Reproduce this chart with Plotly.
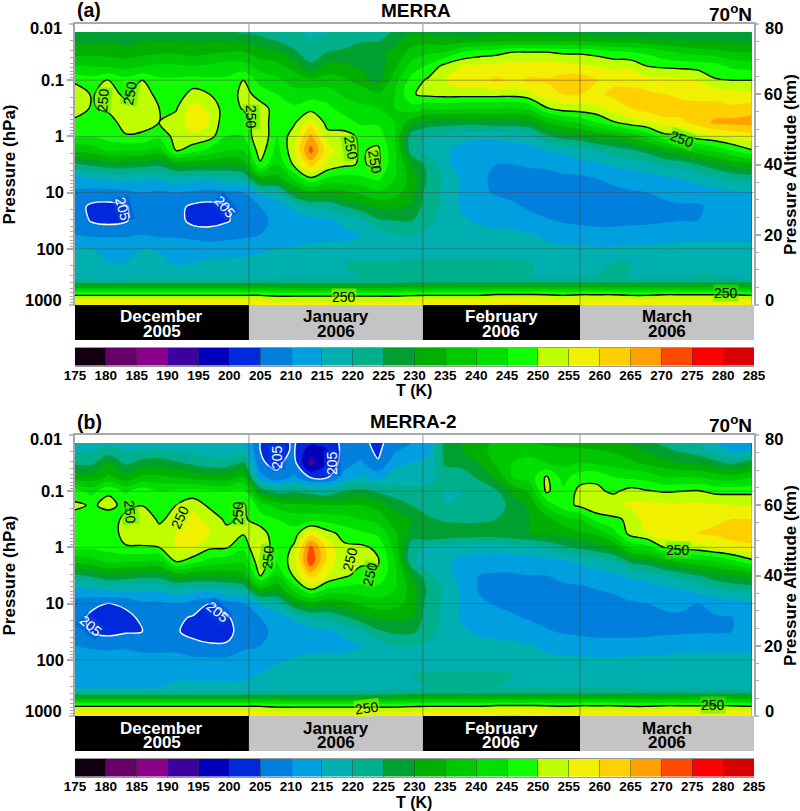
import plotly.graph_objects as go
import pandas as pd

PRESSURE_HPA = [0.0139,0.0185,0.0316,0.0562,0.1,0.178,0.316,0.562,1,1.78,3.16,5.62,10,17.8,31.6,56.2,100,178,316,398,501,631,794,1000]
COL_DATES = [str(d) for d in pd.date_range('2005-12-01','2006-03-30',freq='3D')] + ['2006-03-31 14:00:00']

# temperature profiles (K), one list per date, top of atmosphere to surface
MERRA_T = [
[226,228,233,240,249,253,252,249,246,236,224,213,209,207,208,210,215,216,218,224,236,248,255,258],
[226,228,233,240,247,249.6,249.6,247,245,237,226,215,208,204,204.5,209,215,216,218,224,236,248,255,258],
[227,229,233,239,250.5,252,251,248,247,241,228,216,208,203.5,203.5,209,214.5,215,217,224,236,248,255,259],
[226,228,232,238,247,249,252,252,249.5,240,228,217,208.5,204.5,204.5,209,214.5,215,218,224,236,248,255,258],
[227,229,233,240,250,253,253,252,249,240,227,216,210,208,208,210,215,216,218,224,236,248,255,258],
[227,229,234,241,246,248,250,250,246,238,226,216,209,207,207.5,209,214.5,216,218,224,236,248,255,259],
[227,229,234,241,246,247,249.5,252,252,250.5,231,218,210,206.5,207,209,214,214.5,218,224,236,248,255,258],
[226,229,233,240,247,252,257,258,254,247,231,217,209,204,203.5,208,213.5,215,218,224,236,248,255,258],
[226,229,234,241,246,250,254,255,252,243,231,217,208,203.5,203.5,207,213,216,218,224,236,248,255,258],
[226,229,235,242,246,246,247,246,245,240,230,219,209,204.8,204.5,208,213,216,218,224,236,248,255,258],
[224,229,235,242,250,252,250.5,247,245,240,232,220,210,207,207,209,213,216.5,218,224,236,248,255,258],
[224,226,232,238,243,248,252,254,255,253,249,233,216,210,209,210,214,217,218,224,236,248,255,258],
[222,224,231,237,241,245,248,246,245,243,240,233,218,212,211,211.5,215,217,219,224,236,247,254,257],
[221,222,226,233,238,242,246,249,253,254,251,241,229,216,212,213,215.5,218,220,224,235,247,254,257],
[219,220,222,226,236,243,248,257,266,272,262,249,234,220,213,213.5,216,219,220,224,235,247,254,257],
[220,221,225,232,237,243,246,248,252,257,254,244,232,221,214,214,216,220,220,224,235,247,254,257],
[221,222,226,231,236,239,243,247,252,252,251,243,234,225,216,214,216,220,220,224,235,247,254,257],
[221,224,228,229,233,238,241,244,249,249.5,249.5,244,236,228,218,215,216,220.5,220,224,235,247,254,257],
[220,224,229,227,228,236,240,244,248,251,251,246,239,231,224,217,216,220.5,220,224,235,247,254,257],
[226,228,231,234,238,240,240,240,240,241,241,240,237,231,225,220,216,220.5,220,224,236,247,254,257],
[229,232,237,242,247,249.5,243,232,222,222,230,233,232,229,225,220,217,221,220,225,236,248,254,258],
[228,232,239,246,251,251.5,240,228,220,218,223,224,222,222,221,219,217.5,221,220,225,236,248,255,258],
[228,231,240,252,255,252,241,227,219,216,216,219,219,219,218,217,217,221,220,225,236,248,255,258],
[228,231,245,255,259,252,240,227,217,213,213,214,214,214,216,217,217,221,220,225,237,248,255,259],
[228,231,247,256,258.5,252,240,227,216,212,211.5,211,211,212,214,217,217,221,220,225,237,248,255,259],
[229,232,248,257,261,252,240,228,216,212,210,209,209.5,212,214,216,216.5,221,220,225,237,249,256,260],
[229,232,250,258,259,252,239,228,217,212,210,208,208.5,211,213,216,216,221,220,225,237,249,256,261],
[229,232,250,257,261,254,241,229,218,213,210.5,208.5,208,209,212,215.5,216.5,220.5,220,225,237,249,256,259],
[229,232,250,257,260.5,258,249.5,235,224,215,211,208,207.5,208,210.5,214,216,218,220,225,237,249,255,259],
[228,232,249,257,262,260,252.5,238,227,216,212,209,208,208,209.5,213,216,218,220,225,237,248,255,258],
[228,232,249,256,263,260,253,241,228,218,213,209,208,208,209,212,216,218,220,225,237,249,255,258],
[228,231,248,255,260,259,254,245,231,220,214,210,208.5,208,208.5,212,215.5,217.5,220.5,225,237,249,255,258],
[228,231,246,254,259,261,257,249.5,233,222,216,211,209,208,208.5,212,215.5,220.5,220.5,225,237,249,255,258],
[228,231,245,254,259,261,260,253,236,224,217,212,209.5,208.5,209,212,216,220,220,225,237,248,255,258],
[227,230,244,250,257,261,262,255,241,227,218,213,210,208.5,209,212.5,216,217,219,225,237,248,255,258],
[226,229,241,249,257,260,263,258,248,231,221,214,211,209,209.5,213,216,217,219,225,237,249,255,258],
[226,229,239,248.5,256.5,259,262,259,248.5,234,222,215,211.5,209.5,210,214,216,217,219,225,237,249,255,258],
[226,228,238,248,255,259,261,262,252.5,238,225,217,212,209.5,210,214,216,217,220.5,225,237,249,255,258],
[226,228,237,247,250.5,258,262,266,254,241,228,219,213,211,210.5,214,216,217,220.5,225,237,249,255,258],
[226,228,235,244,250,257,261,266.5,256,245,231,221,214,211.5,211,214,216,217,219,225,237,249,255,258],
[226,228,235,243,250,256,263,267,258,249.5,233,222,215,212,211,214,216,217,219,225,236,248,255,258],
]

MERRA2_T = [
[218,219,224,232,247,251,248,248,246,236,224,213,208,207,208,210,214,215,215,222,236,248,255,258],
[218,219,224,232,243,249.5,248,247,246,238,226,215,206,204,204.5,209,213,215,215,222,236,248,255,258],
[219,222,230,236,249.5,251,248,247,247,241,229,216,204.8,203,203.5,208.5,213,214,215,222,236,248,255,258],
[218,219,224,232,244,249,251,252,249.5,240,228,216,206,203.5,204.5,209,213,214,215,222,236,248,255,258],
[218,220,227,236,248.5,249.8,254,253,249.5,240,227,216,209,206,205,208,212,214,215,222,236,248,255,258],
[218,220,228,236,245,247,249,252,250,239,227,216,209,206,206,208,212,214,215,222,236,248,255,258],
[217,219,226,235,246,250,252,255,255,250.5,232,218,210,206,205.5,208,212,214,216,222,236,248,255,258],
[216,218,224,233,247,253,257,259,256,247,231,217,208,204.5,203.5,206.5,211,214,216,222,236,248,255,258],
[215,217,222,232,246,249,253,255,251,243,231,217,205,203,203,205.5,211,214,216,222,236,248,255,258],
[215,217,222,232,245,247,249,251.5,250.5,242,231,219,208,204.5,203.5,205.5,211,214,216,222,236,248,255,258],
[216,218,226,236,246,251,251,250.5,246,241,233,221,210,207,207,209,212,214,216,222,236,248,255,258],
[205,205,205.5,212,229,243,247,253,257,254,250.5,234,216,210,209,210,212,215,217,222,236,248,255,258],
[203.5,203.5,204,206,223,238,245,246,245,245,240,231,219,212,211,211,214,217,218,222,236,247,254,257],
[205.5,205.5,207,211,224,236,243,247,251,253,251,241,229,216,212,213,215.5,218,218,222,235,247,254,257],
[201,197,193,204.5,222,236,243,258,272,274,262,250,233,220,213,213.5,216,219,218,222,235,247,254,257],
[203,200,200,204.5,221,235,243,252,258,258,255,244,231,221,214,214,216,219,218,222,235,247,254,257],
[206,207,208,212,225,235,242,248,251,251,251,243,233,224,216,214,216,219,218,222,235,247,254,257],
[206,207,211,216,227,235,240,246,251,251,248,243,236,228,219,215,216,219,219,222,235,247,254,257],
[204,204,205.5,213,224,233,238,244,249,250.5,249,243,238,231,224,217,216,219,219,222,235,247,254,257],
[207,209,213,218,222,228,232,236,238,241,241,240,237,231,226,220,216,219,219,223,236,247,254,257],
[210,212,215,218,221,225,230,228,222,221,230,233,233,230,226,220,217,220,219,224,236,248,254,258],
[213,214,216,219,221,222,226,230,219,217,221,224,222,222,222,219,217.5,220.5,220,225,236,248,255,258],
[227,227,226,221,220,220,224,229,218,216,217,219,219,219,218,217,217,220.5,220,225,236,248,255,258],
[230,230,227,222,220,221,224,228,218,213,213,214,214,214,216,217,217,220.5,220,225,237,248,255,259],
[233,233,230,226,221,221,224,228,217,212.5,210,209.5,211,212,214,217,217,220.5,220,225,237,248,255,259],
[236,237,236,231,224,222,225,228,217,212,209.5,209,209.5,212,214,216,217,220.5,220,225,237,249,256,260],
[236,238,240,240,231,227,227,229,218,212,209.5,208.5,209,210.5,213,216,216.5,220,220,225,237,249,256,261],
[235,239,241,242,236,231,230,230,219,212,210,208.5,208.5,209.5,212,215.5,216.5,219,220,225,237,249,256,259],
[234,237,240,250.8,251,241,233,231,221,213,210,208.5,208,208.5,210.5,214,216,218,220,225,237,249,255,259],
[233,236,239,243,246,248,238,231,224,214,211,209,208,208,209.5,213,216,218,220,225,237,248,255,258],
[233,236,240,248,251.5,251,240,234,226,216,212,209,208,208,209,212.5,216,218,220,225,237,249,255,258],
[232,235,239,249,251,254,247,236,228,218,213,210,208.5,208,208.5,212,215.5,217.5,220,225,237,249,255,258],
[231,234,238,245,249,254,249,243,231,220,214,210.5,209,208,208.5,212,215.5,218,220,225,237,249,255,258],
[229,232,236,244,252,256,251,252,241,226,216,212,209.5,208.5,208.5,212,216,217,220,225,237,248,255,258],
[226,229,234,243,250.5,257,258,255,243,228,217,212,210,208.5,208.5,212.5,216,217,219,225,237,248,255,258],
[224,226,232,240,249.5,256,258,258,250,232,220,213.5,211,209,209,213,216,217,219,225,237,249,255,258],
[222,224,230,240,250,256,259,259,252,236,222,215,211.5,209,209,214,216,217,219,225,237,249,255,258],
[220,222,229,240,250.5,256,259,260,253,238,225,217,210,208.5,209.5,214,216,217,219,225,237,249,255,258],
[216,218,227,238,248.5,256,259,261,255,240,228,219,212,209.5,209.5,214,216,217,219,225,237,249,255,258],
[211,214,224,237,248.5,255,260,263,257,243,230,221,213,209.8,210,214,216,217,219,225,237,249,255,258],
[211,215,228,240,248.5,255,260,265,258,248.5,232,222,214,212,211,214,216,217,219,225,236,248,255,258],
]

BAND_EDGES = list(range(175, 290, 5))
BAND_MIDS = [e + 2.5 for e in BAND_EDGES[:-1]]
BAND_COLORS = ['#120012','#660066','#8a008a','#3c00a0','#0000bb','#0028dc','#0080dc','#00a0e0','#00b0b0','#00af8c','#00a030',
               '#00af00','#00c800','#00e000','#10ff00','#c0ff00','#f0f000','#ffd000','#ffa000','#ff4800','#ff0000','#d80000']
P_TICKS = [0.01, 0.1, 1, 10, 100, 1000]
P_LABELS = ['0.01', '0.1', '1', '10', '100', '1000']
P_MINOR = [m*d for d in (0.01,0.1,1,10,100) for m in range(2,10)]
ALT_TICKS = [0, 20, 40, 60, 80]
ALT_MINOR = [5,10,15,25,30,35,45,50,55,65,70,75]
MONTHS = ['December','January','February','March']
YEARS = ['2005','2006','2006','2006']
MONTH_EDGES = ['2005-12-01','2006-01-01','2006-02-01','2006-03-01','2006-04-01']
MONTH_FILL = ['#000000','#c4c4c4','#000000','#c4c4c4']
MONTH_TEXT = ['#ffffff','#000000','#ffffff','#000000']
PANELS = ['(a)', '(b)']
TITLES = ['MERRA', 'MERRA-2']
G = 'rgba(60,240,0,0.5)'
Y = 'rgba(190,255,0,0.5)'
B = 'rgba(0,70,220,0.45)'
# contour labels: text, x px, y px, angle, text colour, background
LABELS = [
 ('250',103,100,-85,'black',G),('250',130,93,-80,'black',G),('250',251,117,90,'black',G),
 ('250',351,148,80,'black',G),('250',375,162,80,'black',G),('250',682,139,20,'black',G),
 ('250',344,297,0,'black',Y),('250',726,293,0,'black',G),
 ('205',123,209,75,'white',B),('205',225,207,50,'white',B),
 ('250',130,512,85,'black',G),('250',180,517,-65,'black',Y),('250',238,513,-90,'black',G),
 ('250',268,557,-85,'black',G),('250',350,559,-75,'black',Y),('250',370,574,-75,'black',G),
 ('250',367,708,-8,'black',Y),('250',678,550,0,'black',G),('250',713,705,0,'black',G),
 ('205',91,626,40,'white',B),('205',218,612,40,'white',B),('205',277,457,-90,'white',B),('205',332,463,-90,'white',B),
]

W, H = 800, 811
L, R = 75, 754
FONT = 'Liberation Sans'
def px(y): return 1 - y/H
def bf(size, color='black'): return dict(family=FONT, size=size, color=color, weight='bold')

stops = [BAND_COLORS[0]] + BAND_COLORS + [BAND_COLORS[-1]]
colorstops = [[k/(len(stops)-1), c] for k, c in enumerate(stops)]
stepped = []
for k, c in enumerate(BAND_COLORS):
    stepped += [[k/len(BAND_COLORS), c], [(k+1)/len(BAND_COLORS), c]]

fig = go.Figure()
annots, shapes = [], []
GREY = '#a8a8a8'

for i, (T, off) in enumerate(zip([MERRA_T, MERRA2_T], [0, 411])):
    xn, yn, y2n = ('x', 'y', 'y2') if i == 0 else ('x2', 'y3', 'y4')
    cx, cy = ('x3', 'y5') if i == 0 else ('x4', 'y6')
    z = [list(r) for r in zip(*T)]
    top, bot = 24+off, 305+off
    fig.add_trace(go.Contour(x=COL_DATES, y=PRESSURE_HPA, z=z, xaxis=xn, yaxis=yn, showscale=False,
        autocontour=False, contours=dict(start=175, end=285, size=5, coloring='fill', showlines=False),
        line=dict(width=0), colorscale=colorstops, hoverinfo='skip'))
    for lev, col in [(250, 'black'), (205, 'white')]:
        fig.add_trace(go.Contour(x=COL_DATES, y=PRESSURE_HPA, z=z, xaxis=xn, yaxis=yn, showscale=False,
            autocontour=False, contours=dict(start=lev, end=lev, size=5, coloring='none'),
            line=dict(color=col, width=1.4), hoverinfo='skip'))
    fig.add_trace(go.Scatter(x=[COL_DATES[0]], y=[0], xaxis=xn, yaxis=y2n, mode='lines', showlegend=False, hoverinfo='skip'))
    fig.add_trace(go.Heatmap(x=BAND_EDGES, y=[0, 1], z=[BAND_MIDS], zmin=175, zmax=285, colorscale=stepped, showscale=False,
                             xaxis=cx, yaxis=cy, hoverinfo='skip'))

    ax = dict(domain=[L/W, R/W], type='date', range=[MONTH_EDGES[0], MONTH_EDGES[-1]], showgrid=False, automargin=False,
              showticklabels=False, ticks='', zeroline=False, showline=True, linecolor=GREY, linewidth=2, side='top',
              anchor=yn)
    ay = dict(domain=[px(bot), px(top)], type='log', range=[3, -2], showgrid=False, zeroline=False, automargin=False,
              tickmode='array', tickvals=P_TICKS[1:-1], ticktext=P_LABELS[1:-1], tickfont=bf(16.5),
              ticks='outside', ticklen=6, tickcolor=GREY, tickwidth=1.5, showline=True, linecolor=GREY, linewidth=1.5,
              minor=dict(tickvals=P_MINOR, ticks='outside', ticklen=3, tickcolor=GREY, tickwidth=1),
              title=dict(text='Pressure (hPa)', font=bf(17), standoff=16), anchor=xn)
    ay2 = dict(domain=[px(bot), px(top)], overlaying=yn, side='right', anchor=xn, range=[0, 80], showgrid=False,
               zeroline=False, automargin=False, tickmode='array', tickvals=ALT_TICKS[1:-1], ticktext=[str(t) for t in ALT_TICKS[1:-1]],
               tickfont=bf(16.5), ticks='outside', ticklen=5, tickcolor=GREY, tickwidth=1.5, showline=True,
               linecolor=GREY, linewidth=1.5,
               minor=dict(tickvals=ALT_MINOR, ticks='outside', ticklen=3, tickcolor=GREY, tickwidth=1),
               title=dict(text='Pressure Altitude (km)', font=bf(17), standoff=8))
    cax = dict(domain=[L/W, R/W], range=[175, 285], tickmode='array', tickvals=BAND_EDGES, tickfont=bf(13.5), ticks='inside', ticklen=17,
               tickcolor='rgba(60,60,60,0.5)', tickwidth=1, ticklabelstandoff=-3, showline=True, linecolor='#999999', linewidth=1, mirror=True,
               showgrid=False, zeroline=False, anchor=cy, automargin=False)
    cay = dict(domain=[px(365.5+off), px(348+off)], range=[0, 1], visible=False, anchor=cx, fixedrange=True, automargin=False)
    fig.update_layout({('xaxis' if i == 0 else 'xaxis2'): ax,
                       ('yaxis' if i == 0 else 'yaxis3'): ay,
                       ('yaxis2' if i == 0 else 'yaxis4'): ay2,
                       ('xaxis3' if i == 0 else 'xaxis4'): cax,
                       ('yaxis5' if i == 0 else 'yaxis6'): cay})
    annots.append(dict(text='T (K)', xref='paper', x=414.5/W, yref='paper', y=px(391+off), xanchor='center', yanchor='middle', showarrow=False, font=bf(16)))

    for e in MONTH_EDGES[1:-1]:
        shapes.append(dict(type='line', xref=xn, x0=e, x1=e, yref='paper', y0=px(bot), y1=px(top),
                           line=dict(color='rgba(70,70,70,0.55)', width=1)))
    for p in P_TICKS[1:-1]:
        shapes.append(dict(type='line', xref='paper', x0=L/W, x1=R/W, yref=yn, y0=p, y1=p,
                           line=dict(color='rgba(70,70,70,0.45)', width=1)))
    for yy in (top, bot):
        shapes.append(dict(type='line', xref='paper', x0=(L-6)/W, x1=L/W, yref='paper', y0=px(yy), y1=px(yy), line=dict(color=GREY, width=1.5)))
        shapes.append(dict(type='line', xref='paper', x0=R/W, x1=(R+5)/W, yref='paper', y0=px(yy), y1=px(yy), line=dict(color=GREY, width=1.5)))
    for m in range(4):
        shapes.append(dict(type='rect', xref=xn, x0=MONTH_EDGES[m], x1=MONTH_EDGES[m+1], yref='paper',
                           y0=px(340+off), y1=px(305+off), fillcolor=MONTH_FILL[m], line=dict(width=0)))
        mid = pd.Timestamp(MONTH_EDGES[m]) + (pd.Timestamp(MONTH_EDGES[m+1]) - pd.Timestamp(MONTH_EDGES[m]))/2
        for txt, yy in [(MONTHS[m], 317), (YEARS[m], 331.5)]:
            annots.append(dict(text=txt, xref=xn, x=str(mid), yref='paper', y=px(yy+off), xanchor='center', yanchor='middle',
                               showarrow=False, font=bf(17, MONTH_TEXT[m])))
    for t, yy in [(P_LABELS[0], 28), (P_LABELS[-1], 300)]:
        annots.append(dict(text=t, xref='paper', x=63.5/W, yref='paper', y=px(yy+off), xanchor='right', yanchor='middle', showarrow=False, font=bf(16.5)))
    for t, yy in [(ALT_TICKS[-1], 28), (ALT_TICKS[0], 300)]:
        annots.append(dict(text=str(t), xref='paper', x=762.5/W, yref='paper', y=px(yy+off), xanchor='left', yanchor='middle', showarrow=False, font=bf(16.5)))
    annots.append(dict(text=PANELS[i], xref='paper', x=75/W, yref='paper', y=px(10.5+off), xanchor='left', yanchor='middle', showarrow=False, font=bf(19.5)))
    annots.append(dict(text=TITLES[i], xref='paper', x=(416 if i == 0 else 414)/W, yref='paper', y=px(10+off), xanchor='center', yanchor='middle', showarrow=False, font=bf(19)))
    annots.append(dict(text='70<sup>o</sup>N', xref='paper', x=754/W, yref='paper', y=px(13+off), xanchor='right', yanchor='middle', showarrow=False, font=bf(19)))

for t, x, y, ang, col, bg in LABELS:
    annots.append(dict(text=t, xref='paper', x=x/W, yref='paper', y=px(y), xanchor='center', yanchor='middle', showarrow=False,
                       textangle=ang, bgcolor=bg, borderpad=0, font=dict(family=FONT, size=14, color=col)))

fig.update_layout(width=W, height=H, margin=dict(l=0, r=0, t=0, b=0), autosize=False, showlegend=False,
                  paper_bgcolor='white', plot_bgcolor='white', font=dict(family=FONT),
                  shapes=shapes, annotations=annots)
fig.write_html('out.html', config={'displayModeBar': False},
               post_script="document.body.style.margin='0';document.body.style.overflow='hidden';")
